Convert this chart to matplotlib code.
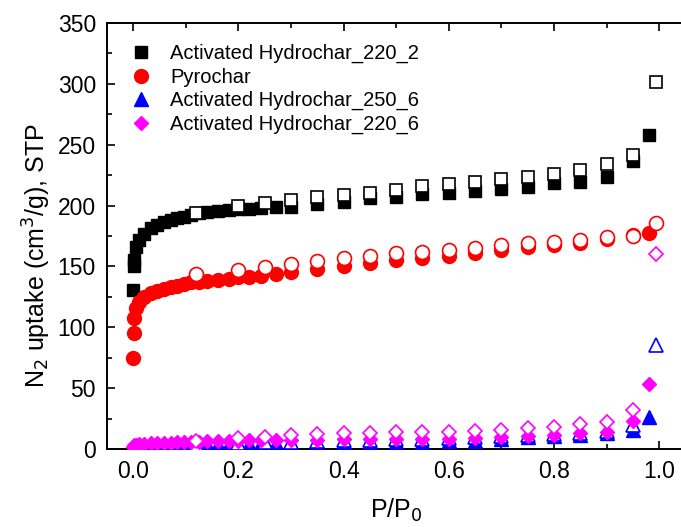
import matplotlib
matplotlib.use("Agg")
import matplotlib.pyplot as plt
from matplotlib.ticker import MultipleLocator

plt.rcParams['font.family'] = ['Liberation Sans', 'DejaVu Sans']

# ---- data ----
x_ads = [0.0002, 0.0006, 0.0015, 0.005, 0.011, 0.021, 0.034, 0.046, 0.059, 0.072,
         0.084, 0.097, 0.11, 0.125, 0.141, 0.162, 0.182, 0.2, 0.221, 0.242,
         0.271, 0.3, 0.35, 0.4, 0.45, 0.5, 0.55, 0.6, 0.65, 0.7,
         0.75, 0.8, 0.85, 0.9, 0.95, 0.98]
x_des = [0.994, 0.95, 0.9, 0.85, 0.8, 0.75, 0.7, 0.65, 0.6, 0.55, 0.5, 0.45,
         0.4, 0.35, 0.3, 0.25, 0.2, 0.12]

ah220_2_ads = [131, 150, 155, 166, 172, 177, 181.5, 184, 186.5, 188,
               190, 191, 192, 193.5, 194.5, 195.5, 196.5, 197, 197.5, 198,
               198.5, 199, 201, 203, 206, 207.4, 209.3, 210.7, 212.3, 213.7,
               215, 218.3, 219.6, 223.8, 236.6, 258]
ah220_2_des = [301.3, 241.6, 233.9, 229.2, 225.9, 223.7, 221.5, 219.6, 217.6, 216,
               213, 210.5, 208.5, 207, 204.6, 202, 199.6, 194]

pyro_ads = [74.5, 95, 107.6, 115.8, 121, 125, 128, 130, 131.5, 133,
            134, 135.5, 137, 137.5, 138, 138.5, 140, 141, 141.6, 142,
            144, 145.7, 147.6, 150.4, 152.5, 155.3, 156.7, 158.6, 160.8, 163.5,
            165.7, 167.6, 169, 172.3, 175.8, 177.5]
pyro_des = [185.7, 175, 173.9, 171.7, 170.3, 169, 167.6, 165.4, 163.5, 162.1,
            161.3, 158.6, 156.7, 154.7, 152, 149.8, 147, 143.4]

ah250_6_ads = [0.5, 0.8, 1.0, 1.3, 1.6, 1.9, 2.1, 2.3, 2.5, 2.7,
               2.9, 3.1, 3.3, 3.5, 3.7, 3.9, 4.1, 4.3, 4.5, 4.7,
               4.9, 5.0, 5.2, 5.4, 5.5, 5.8, 6.0, 6.3, 6.8, 8.0,
               9.6, 10.7, 11.5, 12.9, 16, 26]
ah250_6_des = [85.5, 20, 15, 13.5, 12.5, 11.5, 10.5, 9.5, 9, 8.5,
               8, 7.5, 7, 6.5, 6, 5.5, 5, 4]

ah220_6_ads = [2.0, 2.5, 3.0, 3.5, 4.0, 4.3, 4.6, 4.8, 5.0, 5.2,
               5.4, 5.6, 5.8, 6.0, 6.2, 6.4, 6.6, 6.8, 7.0, 7.2,
               7.4, 7.6, 7.8, 8.0, 8.0, 8.2, 8.4, 8.6, 9.0, 9.6,
               10.7, 11.5, 12.9, 14.2, 23.3, 53.4]
ah220_6_des = [160, 32, 22.4, 20.5, 18.3, 17, 15.5, 14.8, 14.2, 13.9,
               13.7, 13.5, 12.9, 12.5, 11.5, 10, 8.8, 6.8]

labels = ["Activated Hydrochar_220_2", "Pyrochar",
          "Activated Hydrochar_250_6", "Activated Hydrochar_220_6"]
colors = ["black", "red", "blue", "magenta"]
markers = ["s", "o", "^", "D"]
msizes = [8.5, 10, 10, 7.5]

ads = [ah220_2_ads, pyro_ads, ah250_6_ads, ah220_6_ads]
des = [ah220_2_des, pyro_des, ah250_6_des, ah220_6_des]

fig = plt.figure(figsize=(6.81, 5.27), dpi=100)
ax = fig.add_axes([107/681, 78/527, 578.4/681, 426/527])

z = 2
for lab, c, m, ms, ya, yd in zip(labels, colors, markers, msizes, ads, des):
    ax.plot(x_ads, ya, linestyle='none', marker=m, ms=ms, color=c,
            markeredgecolor=c, label=lab, zorder=z)
    ax.plot(x_des, yd, linestyle='none', marker=m, ms=ms, markerfacecolor='white',
            markeredgecolor=c, markeredgewidth=1.2, zorder=z + 0.5)
    z += 1

ax.set_xlim(-0.05, 1.05)
ax.set_ylim(0, 350)
ax.xaxis.set_major_locator(MultipleLocator(0.2))
ax.xaxis.set_minor_locator(MultipleLocator(0.1))
ax.yaxis.set_major_locator(MultipleLocator(50))
ax.yaxis.set_minor_locator(MultipleLocator(25))
ax.xaxis.set_major_formatter(matplotlib.ticker.FormatStrFormatter('%.1f'))
ax.spines['right'].set_visible(False)
ax.tick_params(which='both', direction='in', top=True, right=False, width=1.2,
               labelsize=16.5)
ax.tick_params(which='major', length=6)
ax.tick_params(which='minor', length=3.5)
ax.tick_params(axis='y', which='major', pad=8)
ax.tick_params(axis='x', which='major', pad=8)
for s in ax.spines.values():
    s.set_linewidth(1.4)

ax.set_xlabel("P/P$_0$", fontsize=18, labelpad=10)
ax.set_ylabel("N$_2$ uptake (cm$^3$/g), STP", fontsize=18)
ax.yaxis.set_label_coords(-0.093, 0.455)

leg = ax.legend(loc='upper left', bbox_to_anchor=(0.041, 0.951), frameon=False,
                fontsize=14.5, handlelength=1.0, handletextpad=0.95,
                labelspacing=0.22, borderpad=0, borderaxespad=0, markerscale=1.0)

fig.savefig("out.png", dpi=100)
